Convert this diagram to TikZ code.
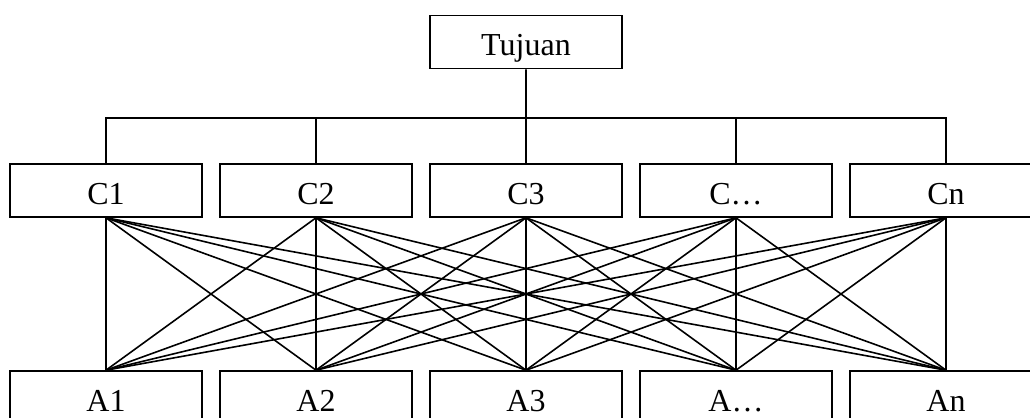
\documentclass[tikz,border=0pt]{standalone}
\usepackage{fontspec}
\setmainfont{Liberation Serif}
\usetikzlibrary{calc,positioning}

\begin{document}
\begin{tikzpicture}[x=0.5pt, y=-0.5pt, line width=0.8pt, node distance=8.2pt,
    every node/.style={draw, rectangle, inner sep=0pt, minimum width=96pt, minimum height=26.5pt,
        text height=13.5pt, text depth=0pt, font=\fontsize{16}{19}\selectfont}]
    \useasboundingbox (0,0) rectangle (1030,418);

    \node (tujuan) at (526,42) {Tujuan};

    \node (c1) at (106,190.5) {C1};
    \node[right=of c1] (c2) {C2};
    \node[right=of c2] (c3) {C3};
    \node[right=of c3] (cdots) {C…};
    \node[right=of cdots] (cn) {Cn};

    \node[below=76.2pt of c1] (a1) {A1};
    \node[below=76.2pt of c2] (a2) {A2};
    \node[below=76.2pt of c3] (a3) {A3};
    \node[below=76.2pt of cdots] (adots) {A…};
    \node[below=76.2pt of cn] (an) {An};

    \draw (c1.north) -- ++(0,-45) coordinate (bar) -| (cn.north);
    \draw (tujuan.south) -- (c3.north);
    \draw (c2.north) -- (c2.north |- bar);
    \draw (cdots.north) -- (cdots.north |- bar);

    \draw (c1.south) -- (a1.north);
    \draw (c1.south) -- (a2.north);
    \draw (c1.south) -- (a3.north);
    \draw (c1.south) -- (adots.north);
    \draw (c1.south) -- (an.north);

    \draw (c2.south) -- (a1.north);
    \draw (c2.south) -- (a2.north);
    \draw (c2.south) -- (a3.north);
    \draw (c2.south) -- (adots.north);
    \draw (c2.south) -- (an.north);

    \draw (c3.south) -- (a1.north);
    \draw (c3.south) -- (a2.north);
    \draw (c3.south) -- (a3.north);
    \draw (c3.south) -- (adots.north);
    \draw (c3.south) -- (an.north);

    \draw (cdots.south) -- (a1.north);
    \draw (cdots.south) -- (a2.north);
    \draw (cdots.south) -- (a3.north);
    \draw (cdots.south) -- (adots.north);
    \draw (cdots.south) -- (an.north);

    \draw (cn.south) -- (a1.north);
    \draw (cn.south) -- (a2.north);
    \draw (cn.south) -- (a3.north);
    \draw (cn.south) -- (adots.north);
    \draw (cn.south) -- (an.north);

\end{tikzpicture}
\end{document}
